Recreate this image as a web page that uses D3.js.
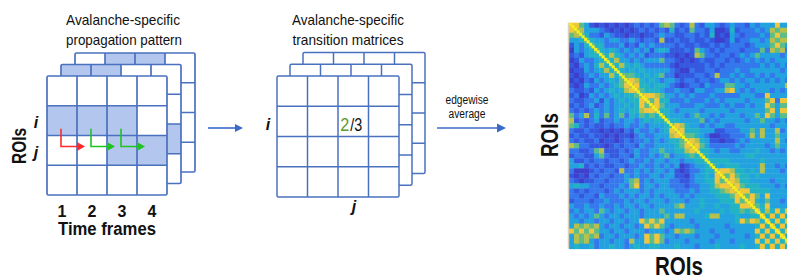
<!DOCTYPE html>
<html>
<head>
<meta charset="utf-8">
<script src="https://cdn.jsdelivr.net/npm/d3@7"></script>
<style>
  body { margin: 0; background: #fff; }
  svg { display: block; }
  text { font-family: "Liberation Sans", Arial, sans-serif; fill: #111; }
</style>
</head>
<body>
<svg id="fig" width="787" height="279"></svg>
<script>
// ---- data ----
const timeFrames = ["1", "2", "3", "4"];
const roiLabels = ["", "i", "j", ""];
// active cells [row, frame] per layer, back layer first
const patternBack = [[0, 1], [0, 2]];
const patternMiddle = [[0, 0], [0, 1], [2, 3]];
const patternFront = [[1, 0], [1, 1], [1, 2], [2, 2], [2, 3]];
// i -> j transitions between consecutive frames
const transitionFrames = [0, 1, 2];
const transitionColors = ["#ff2b2b", "#1fc41f", "#1fc41f"];
// count shown in matrix cell (i, j): hits / total
const countCell = [1, 2];
const countHits = "2";
const countTotal = "/3";
// averaged ROI x ROI matrix, colour level 0..9, lower triangle, 2 ROIs per entry
const nRoi = 90;
const selfLevel = 9;
const heatRows = [
  "8",
  "87",
  "676",
  "4456",
  "24356",
  "143456",
  "2324556",
  "12433456",
  "213435756",
  "1224345756",
  "21234344756",
  "121324345467",
  "2124334345687",
  "32232434545787",
  "231243434545567",
  "3223342434545587",
  "23234234344545867",
  "323234343454557887",
  "6347353634635465656",
  "72323423343443454556",
  "653232232334334344456",
  "3223221212132433434587",
  "23223221212213433444787",
  "323223122123233434345567",
  "7633222123233243344445687",
  "33223672223234334464455787",
  "233224632233243343463445656",
  "4223233233234334344344344556",
  "44523232233233433434341234456",
  "311123233273343434434212334557",
  "2121323323343433443442213445487",
  "32122332333467343444332234455867",
  "454433233343683443443332334457887",
  "3232333234344434344443334344556787",
  "33233243334343443434443434444555687",
  "233323343334344344434443445444555867",
  "4334334334344344344446744454454455887",
  "34344364344344344464444445444454556568",
  "434346434434443444464774444577444544558",
  "4434434434434486868444443444444445868758",
  "47676743443443486864344443444443444445858",
  "868686443443444344434767644434443444485858",
  "4767673443444348686443444344434444434585858",
  "47674344344374486863444344443444344448585858",
  "454453445443454455444544434445444454458585858"
];
const levelColors = ["#3a2c9e", "#3c3fcc", "#3659e0", "#3477ec", "#23a2de",
                     "#24b3c4", "#5cbd8a", "#b6c04e", "#f0c63c", "#f6ef1e"];

// ---- drawing ----
const svg = d3.select("#fig");
const gridStroke = "#4a71be";
const shade = "#b3c6ee";
const arrowBlue = "#3a6bc8";

function drawStack(g, x0, y0, w, h, dx, dy, layers, sw) {
  const xs = d3.scaleBand().domain(d3.range(timeFrames.length)).range([0, w]);
  const ys = d3.scaleBand().domain(d3.range(roiLabels.length)).range([0, h]);
  const n = layers.length;
  layers.forEach((cells, k) => {
    const off = n - 1 - k;
    const lg = g.append("g").attr("transform", `translate(${x0 + dx * off},${y0 + dy * off})`);
    lg.append("rect").attr("width", w).attr("height", h).attr("fill", "#fff");
    lg.selectAll("rect.on").data(cells).join("rect")
      .attr("class", "on")
      .attr("x", d => xs(d[1])).attr("y", d => ys(d[0]))
      .attr("width", xs.bandwidth()).attr("height", ys.bandwidth())
      .attr("fill", shade);
    lg.selectAll("line.v").data(d3.range(1, timeFrames.length)).join("line")
      .attr("class", "v")
      .attr("x1", d => xs(d)).attr("x2", d => xs(d)).attr("y1", 0).attr("y2", h)
      .attr("stroke", gridStroke).attr("stroke-width", sw);
    lg.selectAll("line.h").data(d3.range(1, roiLabels.length)).join("line")
      .attr("class", "h")
      .attr("y1", d => ys(d)).attr("y2", d => ys(d)).attr("x1", 0).attr("x2", w)
      .attr("stroke", gridStroke).attr("stroke-width", sw);
    lg.append("rect").attr("width", w).attr("height", h).attr("rx", 1.5)
      .attr("fill", "none").attr("stroke", gridStroke).attr("stroke-width", sw);
  });
  return { xs, ys };
}

function hArrow(x1, x2, y, color, head) {
  svg.append("line").attr("x1", x1).attr("x2", x2 - head + 1).attr("y1", y).attr("y2", y)
    .attr("stroke", color).attr("stroke-width", 1.6);
  svg.append("path").attr("d", `M${x2},${y} L${x2 - head},${y - head / 2} L${x2 - head},${y + head / 2} Z`)
    .attr("fill", color);
}

function label(x, y, txt, size, len, opts = {}) {
  const t = svg.append("text").attr("x", x).attr("y", y)
    .attr("text-anchor", opts.anchor || "middle")
    .attr("font-size", size).text(txt);
  if (len) t.attr("textLength", len).attr("lengthAdjust", "spacingAndGlyphs");
  if (opts.bold) t.attr("font-weight", "bold");
  if (opts.italic) t.attr("font-style", "italic");
  if (opts.fill) t.style("fill", opts.fill);
  if (opts.rotate) t.attr("x", 0).attr("y", 0).attr("transform", `translate(${x},${y}) rotate(-90)`);
  return t;
}

// panel 1: propagation pattern
const p1 = { x: 47, y: 76, w: 120, h: 119 };
const s1 = drawStack(svg.append("g"), p1.x, p1.y, p1.w, p1.h, 14, -11.5,
  [patternBack, patternMiddle, patternFront], 1.7);

transitionFrames.forEach((f, k) => {
  const xa = p1.x + s1.xs(f) + 14;
  const xb = p1.x + s1.xs(f + 1) + 8;
  const ya = p1.y + s1.ys(1) + 23;
  const yb = p1.y + s1.ys(2) + 11;
  const c = transitionColors[k];
  svg.append("path").attr("d", `M${xa},${ya} V${yb} H${xb - 6}`)
    .attr("fill", "none").attr("stroke", c).attr("stroke-width", 1.6);
  svg.append("path").attr("d", `M${xb},${yb} L${xb - 8},${yb - 4.5} L${xb - 8},${yb + 4.5} Z`)
    .attr("fill", c);
});

svg.selectAll("text.tf").data(timeFrames).join("text")
  .attr("class", "tf")
  .attr("x", (d, i) => p1.x + s1.xs(i) + s1.xs.bandwidth() / 2)
  .attr("y", 217).attr("text-anchor", "middle")
  .attr("font-size", 16).attr("font-weight", "bold").text(d => d);

svg.selectAll("text.roi1").data(roiLabels.filter(d => d)).join("text")
  .attr("class", "roi1")
  .attr("x", 36).attr("y", (d, i) => p1.y + s1.ys(i + 1) + 22)
  .attr("text-anchor", "middle").attr("font-size", 16)
  .attr("font-weight", "bold").attr("font-style", "italic").text(d => d);

label(107, 235, "Time frames", 18, 98, { bold: true });
label(26, 146, "ROIs", 21, 36, { bold: true, rotate: true });
label(123, 25, "Avalanche-specific", 15, 114);
label(124, 45, "propagation pattern", 15, 116);

// arrow 1
hArrow(208, 243, 128, arrowBlue, 8);

// panel 2: transition matrices
const p2 = { x: 277, y: 76, w: 122, h: 121 };
const s2 = drawStack(svg.append("g"), p2.x, p2.y, p2.w, p2.h, 13, -11.7, [[], [], []], 1.5);

// count "2/3" in cell (i, j): green hits, black total
const cx = p2.x + s2.xs(countCell[1]) + s2.xs.bandwidth() / 2 - 2;
const cy = p2.y + s2.ys(countCell[0]) + 25;
label(cx - 2, cy, countHits, 18, 9, { anchor: "end", fill: "#5b9a2b" });
label(cx - 1, cy, countTotal, 18, 12, { anchor: "start" });

label(268, 130, "i", 16, null, { bold: true, italic: true });
label(354, 212, "j", 16, null, { bold: true, italic: true });
label(348, 25, "Avalanche-specific", 15, 112);
label(348, 45, "transition matrices", 15, 111);

// arrow 2
hArrow(437, 506, 128, arrowBlue, 9);
label(467, 104, "edgewise", 12, 43);
label(467, 118, "average", 12, 37);

// panel 3: averaged matrix
const nCoarse = heatRows.length;
const color = d3.scaleLinear().domain(d3.range(levelColors.length)).range(levelColors);
const hx = d3.scaleBand().domain(d3.range(nCoarse)).range([569, 795]);
const hy = d3.scaleBand().domain(d3.range(nCoarse)).range([22.7, 248.7]);
const cells = [];
for (let r = 0; r < nCoarse; r++) {
  for (let c = 0; c < nCoarse; c++) {
    const a = Math.max(r, c), b = Math.min(r, c);
    const v = heatRows[a][b] !== undefined ? +heatRows[a][b] : 3;
    cells.push({ r, c, v });
  }
}
const defs = svg.append("defs");
defs.append("filter").attr("id", "soft")
  .attr("x", 0).attr("y", 0).attr("width", 1).attr("height", 1)
  .append("feGaussianBlur").attr("stdDeviation", 0.55).attr("edgeMode", "duplicate");

const hg = svg.append("g").attr("filter", "url(#soft)");
hg.selectAll("rect.c").data(cells).join("rect")
  .attr("class", "c")
  .attr("x", d => hx(d.c)).attr("y", d => hy(d.r))
  .attr("width", hx.bandwidth() + 0.4).attr("height", hy.bandwidth() + 0.4)
  .attr("fill", d => color(d.v));
const fx = d3.scaleBand().domain(d3.range(nRoi)).range([569, 795]);
const fy = d3.scaleBand().domain(d3.range(nRoi)).range([22.7, 248.7]);
hg.selectAll("rect.d").data(d3.range(nRoi)).join("rect")
  .attr("class", "d")
  .attr("x", d => fx(d)).attr("y", d => fy(d))
  .attr("width", fx.bandwidth() + 0.6).attr("height", fy.bandwidth() + 0.6)
  .attr("fill", color(selfLevel));
svg.append("line").attr("x1", 568.5).attr("x2", 568.5).attr("y1", 22.7).attr("y2", 248.7)
  .attr("stroke", "#ddd0bb").attr("stroke-width", 1.5);

label(558, 135, "ROIs", 23, 44, { bold: true, rotate: true });
label(679, 275, "ROIs", 25, 48, { bold: true });
</script>
</body>
</html>
